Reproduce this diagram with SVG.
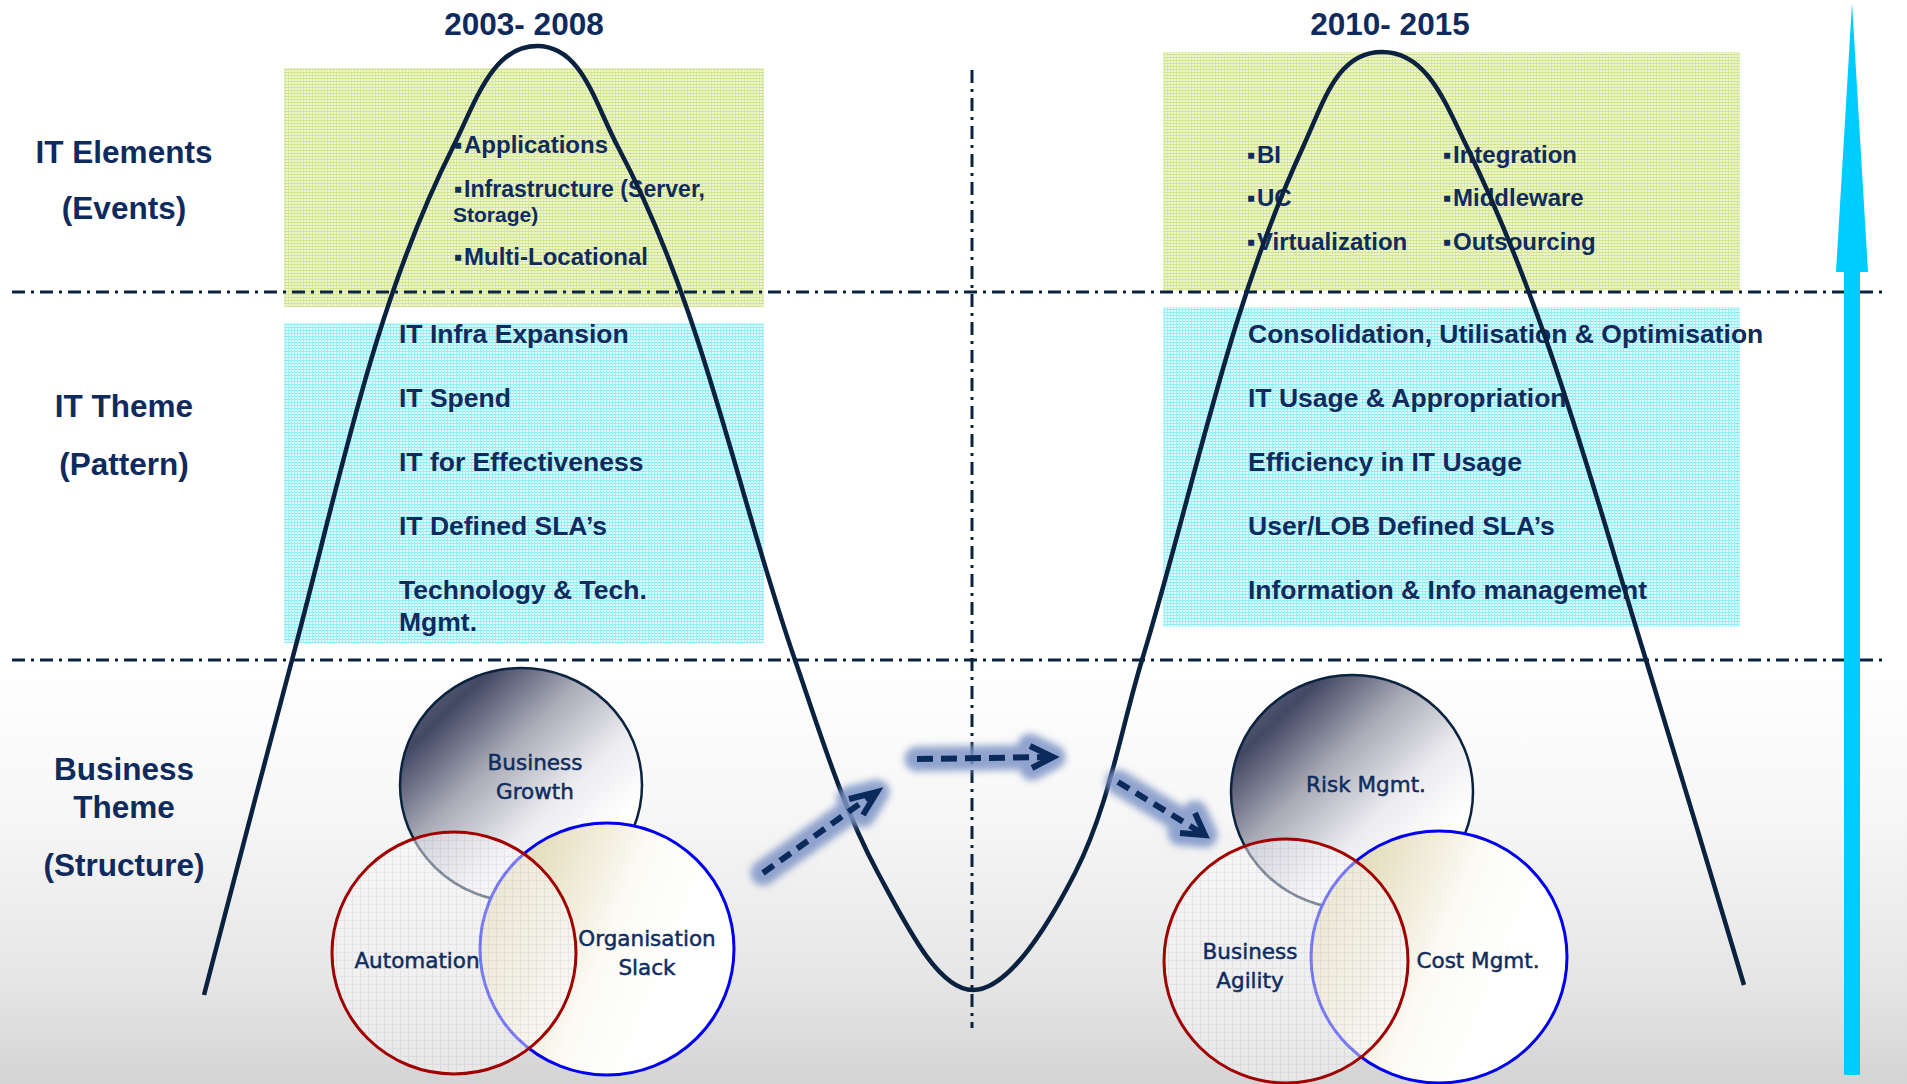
<svg xmlns="http://www.w3.org/2000/svg" width="1907" height="1084" viewBox="0 0 1907 1084">
<defs>
<style>
.t{font-family:"Liberation Sans",Arial,Helvetica,sans-serif;font-weight:bold;fill:#0f2a5c}
.lbl{font-size:31.5px;text-anchor:middle}
.item{font-size:24px}
.theme{font-size:26.5px}
.v{font-family:"DejaVu Sans",Verdana,sans-serif;font-size:21.5px;fill:#0f2d5e;stroke:#0f2d5e;stroke-width:0.5;text-anchor:middle}
.div{fill:none;stroke:#0c2340;stroke-width:3;stroke-dasharray:13 6 3 6}
.curve{fill:none;stroke:#0a2240;stroke-width:4.5}
.dash{fill:none;stroke:#0a2a5c;stroke-width:6}
.head{fill:none;stroke:#0a2a5c;stroke-width:6;stroke-linejoin:miter}
.glow{fill:none;stroke:#7c94c6;stroke-width:25;stroke-linecap:round;stroke-linejoin:round;opacity:0.85}
.topE{fill:url(#gTop);stroke:#0c2340;stroke-width:2.5}
.blueE{fill:url(#gBlue);stroke:#0000ee;stroke-width:3}
.redE{fill:url(#pRed);fill-opacity:0.5;stroke:#a00000;stroke-width:3}
</style>
<pattern id="pGreen" width="3" height="3" patternUnits="userSpaceOnUse"><rect width="3" height="3" fill="#eef6d4"/><rect width="3" height="1" fill="#cfe38c"/><rect width="1" height="3" fill="#d8e99c"/></pattern>
<pattern id="pCyan" width="3" height="3" patternUnits="userSpaceOnUse"><rect width="3" height="3" fill="#dcfcfe"/><rect width="3" height="1" fill="#8cecf6"/><rect width="1" height="3" fill="#a0f0f8"/></pattern>
<pattern id="pRed" width="8" height="8" patternUnits="userSpaceOnUse"><rect width="8" height="8" fill="#f8f8fa"/><rect width="8" height="1" fill="#e0e0e6"/><rect width="1" height="8" fill="#e0e0e6"/></pattern>
<linearGradient id="gBg" x1="0" y1="0" x2="0" y2="1"><stop offset="0" stop-color="#ffffff"/><stop offset="0.35" stop-color="#f7f7f7"/><stop offset="0.75" stop-color="#e6e6e6"/><stop offset="1" stop-color="#d4d4d4"/></linearGradient>
<linearGradient id="gTop" x1="0.08" y1="0.08" x2="0.78" y2="0.78"><stop offset="0" stop-color="#5e637c"/><stop offset="0.16" stop-color="#434864"/><stop offset="0.45" stop-color="#a8aab6"/><stop offset="0.75" stop-color="#ececf0"/><stop offset="1" stop-color="#ffffff"/></linearGradient>
<linearGradient id="gBlue" x1="0" y1="0.3" x2="0.75" y2="0.6"><stop offset="0" stop-color="#ddd4ae"/><stop offset="0.3" stop-color="#ebe5cc"/><stop offset="0.65" stop-color="#fbfaf4"/><stop offset="1" stop-color="#ffffff"/></linearGradient>
<filter id="blur" filterUnits="userSpaceOnUse" x="0" y="0" width="1907" height="1084"><feGaussianBlur stdDeviation="3.5"/></filter>
</defs>

<rect x="0" y="0" width="1907" height="1084" fill="#ffffff"/>
<rect x="0" y="660" width="1907" height="424" fill="url(#gBg)"/>

<g id="bands">
<rect x="284" y="68" width="480" height="239" fill="url(#pGreen)"/>
<rect x="284" y="323" width="480" height="320" fill="url(#pCyan)"/>
<rect x="1163" y="52" width="577" height="239" fill="url(#pGreen)"/>
<rect x="1163" y="307" width="577" height="320" fill="url(#pCyan)"/>
</g>

<g id="row-labels">
<text class="t lbl" x="124" y="163">IT Elements</text>
<text class="t lbl" x="124" y="219">(Events)</text>
<text class="t lbl" x="124" y="417">IT Theme</text>
<text class="t lbl" x="124" y="475">(Pattern)</text>
<text class="t lbl" x="124" y="780">Business</text>
<text class="t lbl" x="124" y="818">Theme</text>
<text class="t lbl" x="124" y="876">(Structure)</text>
</g>

<g id="period-2003">
<text class="t lbl" x="524" y="35">2003- 2008</text>
</g>
<g id="period-2010">
<text class="t lbl" x="1390" y="35">2010- 2015</text>
</g>

<g id="events-2003">
<text class="t item" y="153"><tspan x="454">▪</tspan><tspan x="464">Applications</tspan></text>
<text class="t item" y="197"><tspan x="454">▪</tspan><tspan x="464" textLength="241" lengthAdjust="spacingAndGlyphs">Infrastructure (Server,</tspan></text>
<text class="t" x="453" y="222" font-size="21">Storage)</text>
<text class="t item" y="265"><tspan x="454">▪</tspan><tspan x="464">Multi-Locational</tspan></text>
</g>

<g id="events-2010">
<text class="t item" y="163"><tspan x="1247">▪</tspan><tspan x="1257">BI</tspan></text>
<text class="t item" y="206"><tspan x="1247">▪</tspan><tspan x="1257">UC</tspan></text>
<text class="t item" y="250"><tspan x="1247">▪</tspan><tspan x="1257">Virtualization</tspan></text>
<text class="t item" y="163"><tspan x="1443">▪</tspan><tspan x="1453">Integration</tspan></text>
<text class="t item" y="206"><tspan x="1443">▪</tspan><tspan x="1453">Middleware</tspan></text>
<text class="t item" y="250"><tspan x="1443">▪</tspan><tspan x="1453">Outsourcing</tspan></text>
</g>

<g id="theme-2003">
<text class="t theme" x="399" y="343">IT Infra Expansion</text>
<text class="t theme" x="399" y="407">IT Spend</text>
<text class="t theme" x="399" y="471">IT for Effectiveness</text>
<text class="t theme" x="399" y="535">IT Defined SLA’s</text>
<text class="t theme" x="399" y="599">Technology &amp; Tech.</text>
<text class="t theme" x="399" y="631">Mgmt.</text>
</g>

<g id="theme-2010">
<text class="t theme" x="1248" y="343">Consolidation, Utilisation &amp; Optimisation</text>
<text class="t theme" x="1248" y="407">IT Usage &amp; Appropriation</text>
<text class="t theme" x="1248" y="471">Efficiency in IT Usage</text>
<text class="t theme" x="1248" y="535">User/LOB Defined SLA’s</text>
<text class="t theme" x="1248" y="599">Information &amp; Info management</text>
</g>

<g id="venn-2003">
<ellipse class="topE" cx="521" cy="785" rx="121" ry="117"/>
<ellipse class="blueE" cx="607" cy="949" rx="127" ry="126"/>
<ellipse class="redE" cx="454" cy="953" rx="122" ry="121"/>
<text class="v" x="535" y="770">Business</text>
<text class="v" x="535" y="799">Growth</text>
<text class="v" x="417" y="968">Automation</text>
<text class="v" x="647" y="946">Organisation</text>
<text class="v" x="647" y="975">Slack</text>
</g>

<g id="venn-2010">
<ellipse class="topE" cx="1352" cy="792" rx="121" ry="117"/>
<ellipse class="blueE" cx="1439" cy="957" rx="128" ry="126"/>
<ellipse class="redE" cx="1286" cy="961" rx="122" ry="122"/>
<text class="v" x="1366" y="792">Risk Mgmt.</text>
<text class="v" x="1250" y="959">Business</text>
<text class="v" x="1250" y="988">Agility</text>
<text class="v" x="1478" y="968">Cost Mgmt.</text>
</g>

<g id="dividers">
<line class="div" x1="12" y1="292" x2="1882" y2="292"/>
<line class="div" x1="12" y1="660" x2="1882" y2="660"/>
<line class="div" x1="972" y1="70" x2="972" y2="1028" stroke-width="2.5"/>
</g>

<g id="cycle-curve">
<path class="curve" d="M204,995 C233.3,883.3 262,771.5 292,660 C338.5,487.1 372.5,306.8 453,147 C475.5,102.4 492,46 537,46 C582,46 594.5,102.9 618,147 C703,306.8 735.8,489 795,660 C819.9,732 841.8,805.9 878,873 C906.5,925.8 938,990 973,990 C1008,990 1047.7,926.4 1075,873 C1108.9,806.8 1120.3,731.2 1142,660 C1194.2,488.8 1227.8,309.4 1303,147 C1324,101.6 1337,52 1382,52 C1427,52 1445,102.1 1467,147 C1546.6,309.5 1592.6,487.1 1646,660 C1679.4,768.2 1711.3,876.6 1744,985"/>
</g>

<g id="connectors">
<g filter="url(#blur)">
<path class="glow" d="M763,873 L877,792 M849,799 L877,792 L863,815"/>
<path class="glow" d="M917,759 L1053,757 M1030,746 L1053,757 L1032,768"/>
<path class="glow" d="M1118,782 L1205,835 M1180,833 L1205,835 L1195,813"/>
</g>
<line class="dash" x1="763" y1="873" x2="872" y2="795" stroke-dasharray="13 8"/>
<polyline class="head" points="849,799 877,792 863,815"/>
<line class="dash" x1="917" y1="759" x2="1049" y2="757" stroke-dasharray="16 8"/>
<polyline class="head" points="1030,746 1053,757 1032,768"/>
<line class="dash" x1="1118" y1="782" x2="1200" y2="832" stroke-dasharray="13 8"/>
<polyline class="head" points="1180,833 1205,835 1195,813"/>
</g>

<g id="axis-arrow">
<polygon points="1852,3 1868,272 1860,272 1860,1075 1844,1075 1844,272 1836,272" fill="#00ccff"/>
</g>
</svg>
